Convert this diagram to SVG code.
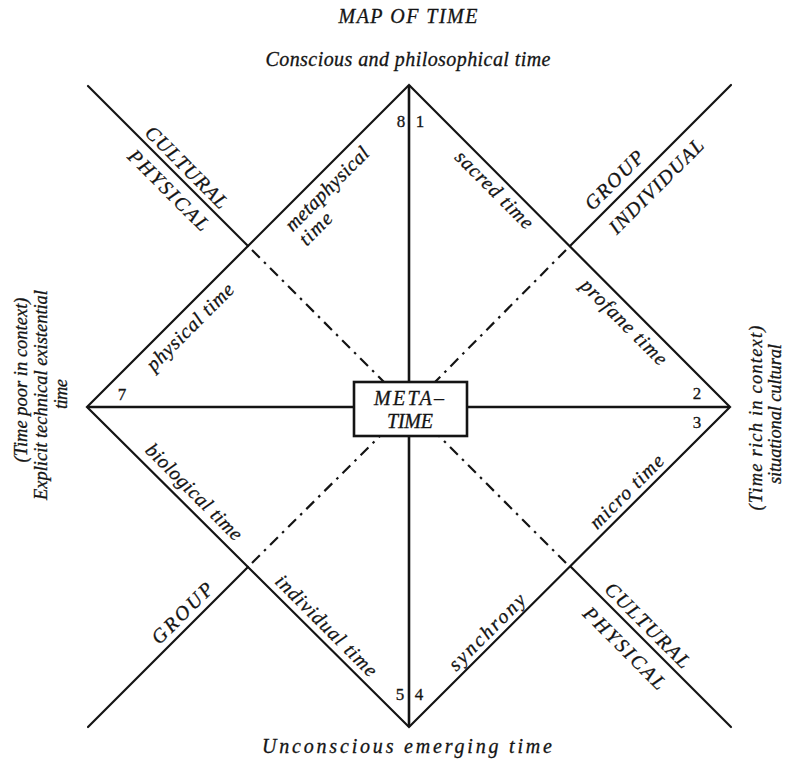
<svg xmlns="http://www.w3.org/2000/svg" width="789" height="761" viewBox="0 0 789 761">
<style>
.ln{stroke:#141414;stroke-width:2.2;fill:none;stroke-linecap:round}
.ax{stroke:#141414;stroke-width:2.6;fill:none}
.dd{stroke:#141414;stroke-width:2.2;fill:none;stroke-dasharray:11 6 2.5 6}
text{font-family:"Liberation Serif","Times New Roman",serif;font-style:italic;font-size:20px;fill:#141414;stroke:#141414;stroke-width:0.3}
.n{font-style:normal;font-size:17px}
.c{text-anchor:middle}
.v{font-size:18.5px}
</style>
<rect width="789" height="761" fill="#fff"/>
<g id="connectors">
<polygon class="ln" points="409,85 730,407 409,727 87,407"/>
<line class="ax" x1="409" y1="85" x2="409" y2="727"/>
<line class="ax" x1="87" y1="407" x2="730" y2="407"/>
<line class="ln" x1="88" y1="86" x2="248" y2="246"/>
<line class="ln" x1="731" y1="85" x2="570" y2="246"/>
<line class="ln" x1="88" y1="727" x2="248" y2="567"/>
<line class="ln" x1="571" y1="567" x2="731" y2="727"/>
<line class="dd" x1="252" y1="250" x2="385" y2="383"/>
<line class="dd" x1="566" y1="250" x2="434" y2="383"/>
<line class="dd" x1="252" y1="563" x2="385" y2="431"/>
<line class="dd" x1="566" y1="563" x2="434" y2="431"/>
</g>
<g id="title"><text class="c" x="408" y="23" textLength="139">MAP OF TIME</text></g>
<g id="top-label"><text class="c" x="408" y="66" textLength="285">Conscious and philosophical time</text></g>
<g id="bottom-label"><text class="c" x="407" y="753" textLength="290">Unconscious emerging time</text></g>
<g id="left-label">
<text class="c v" transform="translate(27,380) rotate(-90)" textLength="165">(Time poor in context)</text>
<text class="c v" transform="translate(47,395) rotate(-90)" textLength="210">Explicit technical existential</text>
<text class="c v" transform="translate(67,394) rotate(-90)" textLength="30">time</text>
</g>
<g id="right-label">
<text class="c v" transform="translate(762,418) rotate(-90)" textLength="185">(Time rich in context)</text>
<text class="c v" transform="translate(781,414) rotate(-90)" textLength="140">situational cultural</text>
</g>
<g id="metatime">
<rect x="354" y="382" width="113" height="54" fill="#fff" stroke="#141414" stroke-width="2.6"/>
<text class="c" x="409" y="405" textLength="70">META–</text>
<text class="c" x="410" y="428" textLength="46">TIME</text>
</g>
<g id="numbers">
<text class="n c" x="401" y="127">8</text>
<text class="n c" x="420" y="127">1</text>
<text class="n c" x="122" y="400">7</text>
<text class="n c" x="697" y="399">2</text>
<text class="n c" x="697" y="428">3</text>
<text class="n c" x="400" y="700">5</text>
<text class="n c" x="419" y="700">4</text>
</g>
<g id="ul-labels">
<text class="c" transform="translate(187,167) rotate(45)" dy="7" textLength="108">CULTURAL</text>
<text class="c" transform="translate(169,190) rotate(45)" dy="7" textLength="106">PHYSICAL</text>
</g>
<g id="ur-labels">
<text class="c" transform="translate(614,180) rotate(-45)" dy="7" textLength="75">GROUP</text>
<text class="c" transform="translate(656,186) rotate(-45)" dy="7" textLength="125">INDIVIDUAL</text>
</g>
<g id="ll-labels">
<text class="c" transform="translate(182,613) rotate(-45)" dy="7" textLength="78">GROUP</text>
</g>
<g id="lr-labels">
<text class="c" transform="translate(648,625) rotate(45)" dy="7" textLength="112">CULTURAL</text>
<text class="c" transform="translate(625,648) rotate(45)" dy="7" textLength="108">PHYSICAL</text>
</g>
<g id="edge-labels">
<text class="c" transform="translate(328,190) rotate(-45)" dy="5" textLength="110">metaphysical</text>
<text class="c" transform="translate(316,229) rotate(-45)" dy="6" textLength="38">time</text>
<text class="c" transform="translate(494,190) rotate(45)" dy="6" textLength="102">sacred time</text>
<text class="c" transform="translate(191,328) rotate(-45)" dy="5" textLength="115">physical time</text>
<text class="c" transform="translate(623,323) rotate(45)" dy="5" textLength="113">profane time</text>
<text class="c" transform="translate(193,493) rotate(45)" dy="5" textLength="128">biological time</text>
<text class="c" transform="translate(326,626) rotate(45)" dy="6" textLength="135">individual time</text>
<text class="c" transform="translate(627,492) rotate(-45)" dy="6" textLength="96">micro time</text>
<text class="c" transform="translate(488,633) rotate(-45)" dy="5" textLength="100">synchrony</text>
</g>
</svg>
